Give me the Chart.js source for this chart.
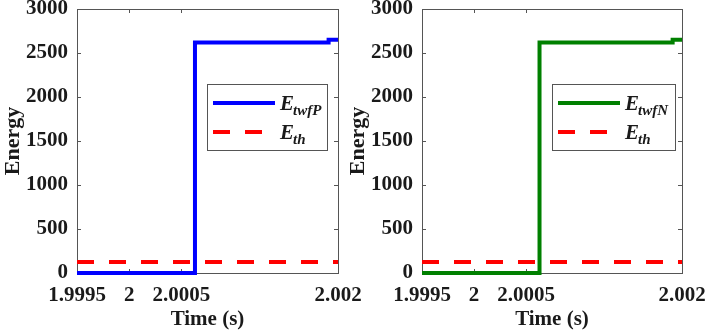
<!DOCTYPE html>
<html>
<head>
<meta charset="utf-8">
<script src="https://cdn.jsdelivr.net/npm/chart.js"></script>
<style>
  html, body { margin: 0; padding: 0; background: #fff; }
  #wrap { position: relative; width: 706px; height: 333px; }
  canvas { position: absolute; left: 0; top: 0; }
</style>
</head>
<body>
<div id="wrap">
  <canvas id="chartP" width="706" height="333"></canvas>
  <canvas id="chartN" width="706" height="333"></canvas>
</div>
<script>
// values
const timeP = [1.9995, 2.00063, 2.00063, 2.00191, 2.00191, 2.002];
const energyP = [0, 0, 2620, 2620, 2650, 2650];
const timeN = [1.9995, 2.00063, 2.00063, 2.00191, 2.00191, 2.002];
const energyN = [0, 0, 2620, 2620, 2650, 2650];
const thTime = [1.9995, 2.002];
const thEnergy = [125, 125];
const xTicks = [1.9995, 2, 2.0005, 2.002];
const xTickLabels = ['1.9995', '2', '2.0005', '2.002'];
const yTicks = [0, 500, 1000, 1500, 2000, 2500, 3000];

const serif = '"Liberation Serif", "Times New Roman", serif';
const axisGray = '#555';
const textColor = '#1a1a1a';

function pts(xs, ys) {
    return xs.map((x, i) => ({ x: x, y: ys[i] }));
}

// MATLAB style box with inward ticks + legend with subscripts
const boxPlugin = {
    id: 'box',
    beforeDatasetsDraw(chart) {
        const { ctx, chartArea: a, scales } = chart;
        ctx.save();
        ctx.strokeStyle = axisGray;
        ctx.lineWidth = 1;
        ctx.strokeRect(Math.round(a.left) + 0.5, Math.round(a.top) + 0.5,
            Math.round(a.right - a.left), Math.round(a.bottom - a.top));
        ctx.beginPath();
        yTicks.forEach(v => {
            const y = Math.round(scales.y.getPixelForValue(v)) + 0.5;
            ctx.moveTo(a.left, y); ctx.lineTo(a.left + 4, y);
            ctx.moveTo(a.right, y); ctx.lineTo(a.right - 4, y);
        });
        xTicks.forEach(v => {
            const x = Math.round(scales.x.getPixelForValue(v)) + 0.5;
            ctx.moveTo(x, a.bottom); ctx.lineTo(x, a.bottom - 4);
            ctx.moveTo(x, a.top); ctx.lineTo(x, a.top + 4);
        });
        ctx.stroke();
        ctx.restore();
    },
    afterDraw(chart) {
        const { ctx, chartArea: a } = chart;
        const lg = chart.options.plugins.box;
        const bx = a.left + 130, by = a.top + 75, bw = lg.width, bh = 66;
        ctx.save();
        ctx.fillStyle = '#fff';
        ctx.fillRect(bx, by, bw, bh);
        ctx.strokeStyle = axisGray;
        ctx.lineWidth = 1;
        ctx.strokeRect(Math.round(bx) + 0.5, Math.round(by) + 0.5, bw, bh);
        const rows = [
            { color: lg.color, dash: [], sub: lg.sub, y: by + 19 },
            { color: '#ff0000', dash: [17, 15], sub: 'th', y: by + 48 }
        ];
        rows.forEach(r => {
            ctx.beginPath();
            ctx.setLineDash(r.dash);
            ctx.strokeStyle = r.color;
            ctx.lineWidth = 4;
            ctx.moveTo(bx + 6, r.y);
            ctx.lineTo(bx + 68, r.y);
            ctx.stroke();
            ctx.setLineDash([]);
            ctx.fillStyle = textColor;
            ctx.textBaseline = 'alphabetic';
            ctx.textAlign = 'left';
            ctx.font = 'italic bold 21px ' + serif;
            ctx.fillText('E', bx + 73, r.y + 7);
            const ew = ctx.measureText('E').width;
            ctx.font = 'italic bold 15px ' + serif;
            ctx.fillText(r.sub, bx + 72 + ew, r.y + 12);
        });
        ctx.restore();
    }
};

function makeChart(id, times, energy, color, sub, padLeft, padRight, legendWidth) {
    return new Chart(document.getElementById(id), {
        type: 'line',
        data: {
            datasets: [
                {
                    data: pts(times, energy),
                    borderColor: color,
                    borderWidth: 4,
                    pointRadius: 0,
                    tension: 0,
                    borderJoinStyle: 'miter',
                    clip: 4
                },
                {
                    data: pts(thTime, thEnergy),
                    borderColor: '#ff0000',
                    borderWidth: 4,
                    borderDash: [17, 15],
                    pointRadius: 0,
                    tension: 0,
                    clip: 4
                }
            ]
        },
        options: {
            responsive: false,
            animation: false,
            events: [],
            layout: { padding: { left: padLeft, right: padRight, top: 9, bottom: 0 } },
            plugins: {
                legend: { display: false },
                tooltip: { enabled: false },
                box: { color: color, sub: sub, width: legendWidth }
            },
            scales: {
                x: {
                    type: 'linear',
                    min: 1.9995,
                    max: 2.002,
                    afterBuildTicks: s => { s.ticks = xTicks.map(v => ({ value: v })); },
                    afterFit: s => { s.height = 60; s.paddingLeft = 0; s.paddingRight = 0; },
                    grid: { display: false, drawTicks: false },
                    border: { display: false },
                    ticks: {
                        autoSkip: false,
                        maxRotation: 0,
                        padding: 10,
                        color: textColor,
                        font: { family: serif, size: 21, weight: 'bold' },
                        callback: (v, i) => xTickLabels[i]
                    },
                    title: {
                        display: true,
                        text: 'Time (s)',
                        color: textColor,
                        padding: { top: 0, bottom: 1 },
                        font: { family: serif, size: 21, weight: 'bold' }
                    }
                },
                y: {
                    min: 0,
                    max: 3000,
                    afterBuildTicks: s => { s.ticks = yTicks.map(v => ({ value: v })); },
                    afterFit: s => { s.width = 77; s.paddingTop = 0; s.paddingBottom = 0; },
                    grid: { display: false, drawTicks: false },
                    border: { display: false },
                    ticks: {
                        padding: 9,
                        color: textColor,
                        font: { family: serif, size: 21, weight: 'bold' },
                        callback: v => String(v)
                    },
                    title: {
                        display: true,
                        text: 'Energy',
                        color: textColor,
                        padding: 0,
                        font: { family: serif, size: 22, weight: 'bold' }
                    }
                }
            }
        },
        plugins: [boxPlugin]
    });
}

makeChart('chartP', timeP, energyP, '#0000ff', 'twfP', 0, 368, 120);
makeChart('chartN', timeN, energyN, '#008000', 'twfN', 345, 24, 123);
</script>
</body>
</html>
